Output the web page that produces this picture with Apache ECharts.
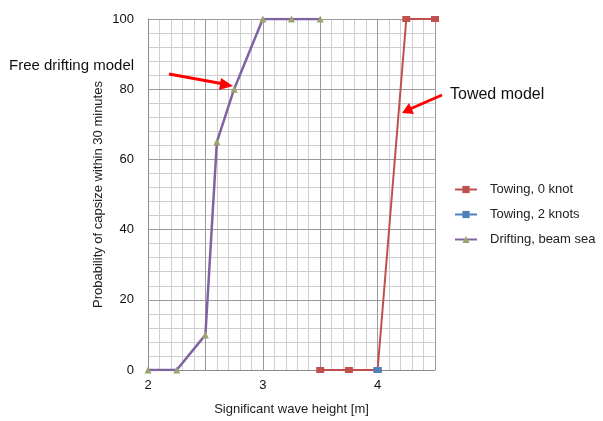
<!DOCTYPE html>
<html><head><meta charset="utf-8">
<script src="https://cdn.jsdelivr.net/npm/echarts@6/dist/echarts.min.js"></script>
<style>html,body{margin:0;padding:0;background:#fff}#c{width:603px;height:421px}</style>
</head><body><div id="c"></div>
<script>
const towing0X = [3.5, 3.75, 4, 4.25, 4.5];
const towing0Y = [0, 0, 0, 100, 100];
const towing2X = [4];
const towing2Y = [0];
const driftX = [2, 2.25, 2.5, 2.6, 2.75, 3, 3.25, 3.5];
const driftY = [0, 0, 10, 65, 80, 100, 100, 100];
const xTickLabels = [2, 3, 4];
const yTickLabels = [0, 20, 40, 60, 80, 100];

const pair = (xs, ys) => xs.map((x, i) => [x, ys[i]]);
const FONT = 'Liberation Sans, Arial, sans-serif';
const chart = echarts.init(document.getElementById('c'), null, {renderer: 'canvas'});
const grid = {left: 148, right: 168, top: 19, bottom: 48};
chart.setOption({
  animation: false,
  grid: grid,
  xAxis: [
    {type: 'value', min: 2, max: 4.5, interval: 0.5, z: 3,
     name: 'Significant wave height [m]', nameLocation: 'middle', nameGap: 33,
     nameTextStyle: {fontFamily: FONT, fontSize: 13, color: '#222'},
     axisLine: {show: true, lineStyle: {color: '#8c8c8c', width: 1}},
     axisTick: {show: false},
     axisLabel: {margin: 9, fontFamily: FONT, fontSize: 13, color: '#111',
       formatter: v => xTickLabels.some(t => Math.abs(t - v) < 1e-6) ? String(Math.round(v)) : ''},
     splitLine: {show: true, lineStyle: {color: '#9a9a9a', width: 1}}},
    {type: 'value', min: 2, max: 4.5, interval: 0.1, z: 1, position: 'bottom',
     axisLine: {show: false}, axisTick: {show: false}, axisLabel: {show: false},
     splitLine: {show: true, lineStyle: {color: '#cfcfcf', width: 1}}}
  ],
  yAxis: [
    {type: 'value', min: 0, max: 100, interval: 20, z: 3,
     name: 'Probability of capsize within 30 minutes', nameLocation: 'middle', nameGap: 43,
     nameTextStyle: {fontFamily: FONT, fontSize: 13, color: '#222'},
     axisLine: {show: true, lineStyle: {color: '#8c8c8c', width: 1}},
     axisTick: {show: false},
     axisLabel: {margin: 14, fontFamily: FONT, fontSize: 13, color: '#111',
       formatter: v => yTickLabels.includes(v) ? String(v) : ''},
     splitLine: {show: true, lineStyle: {color: '#9a9a9a', width: 1}}},
    {type: 'value', min: 0, max: 100, interval: 4, z: 1, position: 'left',
     axisLine: {show: false}, axisTick: {show: false}, axisLabel: {show: false},
     splitLine: {show: true, lineStyle: {color: '#cfcfcf', width: 1}}}
  ],
  legend: {
    orient: 'vertical', left: 449, top: 178, itemGap: 12, itemWidth: 22, itemHeight: 9,
    textStyle: {fontFamily: FONT, fontSize: 13, color: '#222', padding: [0, 0, 0, 8]},
    data: ['Towing, 0 knot', 'Towing, 2 knots', 'Drifting, beam sea']
  },
  series: [
    {name: 'Towing, 0 knot', type: 'line', data: pair(towing0X, towing0Y), z: 5,
     symbol: 'rect', symbolSize: [8, 6], showAllSymbol: true,
     lineStyle: {color: '#C0504D', width: 2}, itemStyle: {color: '#C0504D'}},
    {name: 'Towing, 2 knots', type: 'line', data: pair(towing2X, towing2Y), z: 6,
     symbol: 'rect', symbolSize: [8, 6],
     lineStyle: {color: '#4F81BD', width: 2}, itemStyle: {color: '#4F81BD'}},
    {name: 'Drifting, beam sea', type: 'line', data: pair(driftX, driftY), z: 5,
     symbol: 'triangle', symbolSize: 7, showAllSymbol: true,
     lineStyle: {color: '#8064A2', width: 2.5}, itemStyle: {color: '#9BA46E'}}
  ],
  graphic: [
    {type: 'text', left: 9, top: 58, style: {text: 'Free drifting model', font: '15px ' + FONT, fill: '#111'}},
    {type: 'text', left: 450, top: 87, style: {text: 'Towed model', font: '16px ' + FONT, fill: '#111'}},
    {type: 'line', shape: {x1: 169, y1: 74, x2: 224, y2: 84}, style: {stroke: '#FF0000', lineWidth: 3}, z: 10},
    {type: 'polygon', shape: {points: [[233, 86], [221, 78], [219, 90]]}, style: {fill: '#FF0000'}, z: 10},
    {type: 'line', shape: {x1: 442, y1: 95, x2: 410, y2: 109}, style: {stroke: '#FF0000', lineWidth: 3}, z: 10},
    {type: 'polygon', shape: {points: [[402, 113], [409, 103], [414, 114]]}, style: {fill: '#FF0000'}, z: 10}
  ]
});
</script></body></html>
